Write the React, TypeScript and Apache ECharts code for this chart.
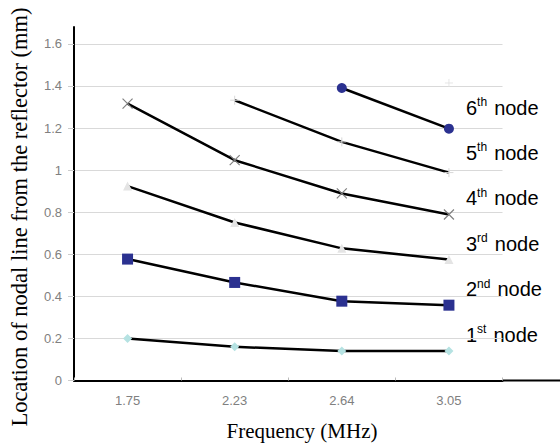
import React, { useEffect, useRef } from "react";
import * as echarts from "echarts";

const categories = ["1.75", "2.23", "2.64", "3.05"];
const node1 = [0.2, 0.16, 0.14, 0.14];
const node2 = [0.577, 0.466, 0.377, 0.358];
const node3 = [0.924, 0.751, 0.628, 0.575];
const node4 = [1.316, 1.047, 0.889, 0.789];
const node5 = [null, 1.332, 1.134, 0.988];
const node6 = [null, null, 1.39, 1.197];
const ghost = [null, null, null, 1.414];
const yTicks = [0, 0.2, 0.4, 0.6, 0.8, 1, 1.2, 1.4, 1.6];
const nodeLabels = [
  { num: "6", sup: "th" },
  { num: "5", sup: "th" },
  { num: "4", sup: "th" },
  { num: "3", sup: "rd" },
  { num: "2", sup: "nd" },
  { num: "1", sup: "st" },
];

const X_PATH = "path://M0,0L10,10M10,0L0,10";
const PLUS_PATH = "path://M5,0L5,10M0,5L10,5";
const SANS = "Liberation Sans, Arial, sans-serif";
const SERIF = "Liberation Serif, Times New Roman, serif";

export default function App() {
  const ref = useRef<HTMLDivElement>(null);
  useEffect(() => {
    if (!ref.current) return;
    const chart = echarts.init(ref.current, null, { renderer: "svg" });
    const lineStyle = { color: "#000", width: 2.5 };
    const mk = (name: string, data: any[], symbol: string, size: number, itemStyle: any) => ({
      name,
      type: "line",
      data,
      symbol,
      symbolSize: size,
      showSymbol: true,
      lineStyle,
      itemStyle,
      connectNulls: false,
      z: 3,
    });
    const labelGraphics = nodeLabels.map((l, i) => ({
      type: "text",
      left: 466,
      top: 96 + i * 45.4,
      style: {
        text: `{n|${l.num}}{s|${l.sup}}{g| }{n|node}`,
        rich: {
          n: { fontSize: 20, fontFamily: SANS, fill: "#000", lineHeight: 23 },
          s: { fontSize: 12, fontFamily: SANS, fill: "#000", lineHeight: 23, verticalAlign: "top" },
          g: { fontSize: 20, fontFamily: SANS, lineHeight: 23, width: 7 },
        },
      },
    }));
    chart.setOption({
      animation: false,
      backgroundColor: "#fff",
      grid: { left: 74, right: 57.5, top: 27, bottom: 65.5, containLabel: false },
      xAxis: {
        type: "category",
        data: categories,
        boundaryGap: true,
        axisLine: { show: true, lineStyle: { color: "#000", width: 2 } },
        axisTick: { show: true, inside: true, length: 3, lineStyle: { color: "#bbb" } },
        axisLabel: { color: "#808080", fontSize: 13, fontFamily: SANS, margin: 13 },
        splitLine: { show: false },
      },
      yAxis: {
        type: "value",
        min: 0,
        max: 1.68,
        interval: 0.2,
        axisLine: { show: true, lineStyle: { color: "#000", width: 2 } },
        axisTick: { show: true, length: 6, lineStyle: { color: "#ccc" } },
        axisLabel: {
          color: "#808080",
          fontSize: 13,
          fontFamily: SANS,
          margin: 12,
          showMaxLabel: false,
          formatter: (v: number) => (yTicks.some((t) => Math.abs(t - v) < 1e-6) ? String(+v.toFixed(1)) : ""),
        },
        splitLine: { show: true, showMaxLine: false, lineStyle: { color: "#d9d9d9", width: 1 } },
      },
      series: [
        mk("1st node", node1, "diamond", 9, { color: "#b5e2e2" }),
        mk("2nd node", node2, "rect", 11, { color: "#2b3190" }),
        mk("3rd node", node3, "triangle", 9, { color: "#e4e4e4" }),
        mk("4th node", node4, X_PATH, 10, { color: "none", borderColor: "#808080", borderWidth: 1.2 }),
        mk("5th node", node5, PLUS_PATH, 9, { color: "none", borderColor: "#d8d8d8", borderWidth: 1 }),
        mk("6th node", node6, "circle", 10, { color: "#2b3190" }),
        {
          name: "ghost",
          type: "scatter",
          data: ghost,
          symbol: PLUS_PATH,
          symbolSize: 8,
          itemStyle: { color: "none", borderColor: "#e0e0e0", borderWidth: 1 },
        },
      ],
      graphic: [
        {
          type: "line",
          shape: { x1: 502, y1: 380.5, x2: 560, y2: 380.5 },
          style: { stroke: "#000", lineWidth: 2 },
        },
        {
          type: "text",
          x: 302,
          y: 431,
          style: {
            text: "Frequency (MHz)",
            fontSize: 21,
            fontFamily: SERIF,
            fill: "#000",
            align: "center",
            verticalAlign: "middle",
          },
        },
        {
          type: "text",
          x: 19,
          y: 217,
          rotation: Math.PI / 2,
          style: {
            text: "Location of nodal line from the reflector (mm)",
            fontSize: 22.5,
            fontFamily: SERIF,
            fill: "#000",
            align: "center",
            verticalAlign: "middle",
          },
        },
        ...labelGraphics,
      ],
    });
    return () => chart.dispose();
  }, []);
  return (
    <div
      ref={ref}
      style={{ position: "fixed", left: 0, top: 0, width: 560, height: 446 }}
    />
  );
}
